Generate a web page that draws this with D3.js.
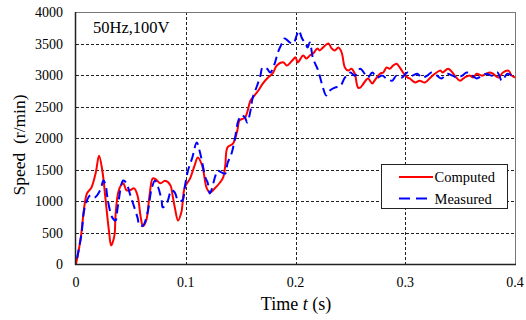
<!DOCTYPE html>
<html>
<head>
<meta charset="utf-8">
<script src="https://cdn.jsdelivr.net/npm/d3@7"></script>
<style>
  body { margin: 0; background: #fff; }
  svg { display: block; font-family: "Liberation Serif", "Times New Roman", serif; }
</style>
</head>
<body>
<svg id="chart" width="526" height="320"></svg>
<script>
// time (s) and speed (r/min)
var computedTime = [0, 0.004, 0.010, 0.014, 0.018, 0.021, 0.024, 0.027, 0.030, 0.032, 0.035, 0.036, 0.039, 0.043, 0.046, 0.049, 0.053, 0.056, 0.059, 0.061, 0.064, 0.067, 0.070, 0.073, 0.077, 0.081, 0.086, 0.088, 0.090, 0.093, 0.096, 0.099, 0.104, 0.108, 0.111, 0.115, 0.119, 0.122, 0.127, 0.131, 0.134, 0.136, 0.138, 0.143, 0.147, 0.149, 0.154, 0.159, 0.161, 0.166, 0.170, 0.175, 0.179, 0.183, 0.189, 0.192, 0.197, 0.200, 0.202, 0.207, 0.210, 0.213, 0.216, 0.220, 0.222, 0.225, 0.230, 0.233, 0.236, 0.239, 0.242, 0.245, 0.248, 0.251, 0.254, 0.257, 0.259, 0.262, 0.266, 0.270, 0.272, 0.277, 0.280, 0.283, 0.286, 0.289, 0.292, 0.295, 0.298, 0.302, 0.304, 0.309, 0.313, 0.318, 0.323, 0.327, 0.332, 0.334, 0.339, 0.343, 0.345, 0.350, 0.354, 0.359, 0.362, 0.365, 0.370, 0.374, 0.377, 0.380, 0.385, 0.389, 0.394, 0.397, 0.400];
var computedSpeed = [0, 370, 1120, 1210, 1450, 1720, 1480, 1010, 530, 295, 450, 770, 1170, 1280, 1170, 1170, 1200, 1090, 740, 600, 690, 1090, 1360, 1340, 1280, 1320, 1250, 1090, 900, 690, 820, 1210, 1360, 1560, 1690, 1560, 1210, 1135, 1210, 1290, 1370, 1560, 1850, 1910, 2120, 2280, 2325, 2595, 2640, 2750, 2860, 2960, 3020, 3150, 3200, 3150, 3230, 3280, 3200, 3310, 3260, 3310, 3340, 3420, 3390, 3435, 3500, 3420, 3390, 3435, 3360, 3120, 3070, 3100, 3020, 2800, 2800, 2865, 2945, 2865, 2910, 3020, 3040, 3120, 3100, 3150, 3180, 3120, 3040, 2960, 2945, 2880, 2910, 2880, 2960, 3020, 3070, 3040, 3100, 3040, 2990, 2910, 2960, 2990, 2960, 3020, 2990, 3020, 3040, 3020, 2960, 3040, 3070, 2990, 2960];

var measuredTime = [0.001, 0.005, 0.008, 0.013, 0.017, 0.022, 0.025, 0.027, 0.029, 0.033, 0.036, 0.038, 0.043, 0.046, 0.049, 0.052, 0.056, 0.058, 0.061, 0.065, 0.069, 0.072, 0.075, 0.078, 0.079, 0.083, 0.087, 0.090, 0.093, 0.097, 0.099, 0.102, 0.106, 0.110, 0.113, 0.118, 0.120, 0.122, 0.127, 0.129, 0.133, 0.136, 0.138, 0.142, 0.145, 0.148, 0.151, 0.154, 0.156, 0.159, 0.161, 0.165, 0.168, 0.170, 0.174, 0.177, 0.181, 0.184, 0.188, 0.190, 0.195, 0.198, 0.201, 0.203, 0.206, 0.209, 0.211, 0.213, 0.216, 0.220, 0.222, 0.225, 0.228, 0.231, 0.236, 0.241, 0.245, 0.250, 0.254, 0.259, 0.263, 0.266, 0.270, 0.274, 0.279, 0.283, 0.288, 0.292, 0.297, 0.302, 0.306, 0.311, 0.315, 0.320, 0.324, 0.329, 0.333, 0.338, 0.343, 0.347, 0.352, 0.356, 0.361, 0.365, 0.370, 0.374, 0.379, 0.384, 0.388, 0.393, 0.397, 0.400];
var measuredSpeed = [90, 480, 900, 1090, 1055, 1170, 1325, 1250, 1010, 740, 690, 900, 1325, 1280, 1120, 960, 740, 610, 610, 800, 1200, 1325, 1210, 1010, 900, 975, 1170, 1135, 1010, 1010, 1210, 1480, 1690, 1930, 1770, 1370, 1290, 1120, 1400, 1480, 1450, 1435, 1595, 1770, 2010, 2280, 2360, 2325, 2245, 2435, 2640, 2830, 2990, 3120, 3100, 3040, 3180, 3360, 3515, 3580, 3515, 3500, 3625, 3705, 3580, 3500, 3435, 3515, 3260, 3100, 2990, 2800, 2675, 2750, 2800, 2830, 2960, 3040, 2990, 3100, 3020, 2960, 3040, 2960, 2990, 2945, 2910, 2990, 2960, 3040, 2990, 3020, 2960, 2990, 3040, 2990, 2945, 3020, 2990, 2960, 2990, 3040, 2990, 2945, 2990, 3020, 2990, 3040, 2910, 3020, 2990, 2960];

var xTicks = [0, 0.1, 0.2, 0.3, 0.4];
var yTicks = [0, 500, 1000, 1500, 2000, 2500, 3000, 3500, 4000];
var seriesNames = ["Computed", "Measured"];

var svg = d3.select("#chart");
var plotLeft = 76, plotRight = 515, plotTop = 12, plotBottom = 264;

var x = d3.scaleLinear().domain([0, 0.4]).range([plotLeft, plotRight]);
var y = d3.scaleLinear().domain([0, 4000]).range([plotBottom, plotTop]);

// dashed grid
svg.append("g").selectAll("line")
  .data(yTicks.slice(1, -1))
  .join("line")
  .attr("x1", plotLeft).attr("x2", plotRight)
  .attr("y1", function(d){ return Math.round(y(d)) + 0.5; })
  .attr("y2", function(d){ return Math.round(y(d)) + 0.5; })
  .attr("stroke", "#222").attr("stroke-width", 1)
  .attr("stroke-dasharray", "3,2");

svg.append("g").selectAll("line")
  .data(xTicks.slice(1, -1))
  .join("line")
  .attr("x1", function(d){ return Math.round(x(d)) + 0.5; })
  .attr("x2", function(d){ return Math.round(x(d)) + 0.5; })
  .attr("y1", plotTop).attr("y2", plotBottom)
  .attr("stroke", "#222").attr("stroke-width", 1)
  .attr("stroke-dasharray", "3,2");

// frame: top/right grey, left/bottom dark
svg.append("line").attr("x1", plotLeft).attr("x2", plotRight).attr("y1", plotTop + 0.5).attr("y2", plotTop + 0.5)
  .attr("stroke", "#777");
svg.append("line").attr("x1", plotRight + 0.5).attr("x2", plotRight + 0.5).attr("y1", plotTop).attr("y2", plotBottom)
  .attr("stroke", "#777");

// tick labels
svg.append("g").selectAll("text")
  .data(yTicks)
  .join("text")
  .attr("x", 63)
  .attr("y", function(d){ return y(d) + 5; })
  .attr("text-anchor", "end")
  .attr("font-size", 14)
  .text(function(d){ return d; });

svg.append("g").selectAll("text")
  .data(xTicks)
  .join("text")
  .attr("x", function(d){ return x(d); })
  .attr("y", 287)
  .attr("text-anchor", "middle")
  .attr("font-size", 14)
  .text(function(d){ return d; });

// clip the curves to the plot
svg.append("clipPath").attr("id", "plotclip")
  .append("rect").attr("x", plotLeft).attr("y", plotTop - 2)
  .attr("width", plotRight - plotLeft + 1).attr("height", plotBottom - plotTop + 3);

var line = d3.line()
  .x(function(d){ return x(d[0]); })
  .y(function(d){ return y(d[1]); })
  .curve(d3.curveCatmullRom.alpha(0.5));

var computed = d3.zip(computedTime, computedSpeed);
var measured = d3.zip(measuredTime, measuredSpeed);

var curves = svg.append("g").attr("clip-path", "url(#plotclip)");
curves.append("path").datum(computed)
  .attr("d", line).attr("fill", "none")
  .attr("stroke", "#ff0000").attr("stroke-width", 2);
curves.append("path").datum(measured)
  .attr("d", line).attr("fill", "none")
  .attr("stroke", "#0000ff").attr("stroke-width", 2)
  .attr("stroke-dasharray", "9,5");

// left and bottom axis lines over the curves
svg.append("line").attr("x1", plotLeft - 0.5).attr("x2", plotLeft - 0.5).attr("y1", plotTop).attr("y2", plotBottom + 1)
  .attr("stroke", "#222").attr("stroke-width", 1.5);
svg.append("line").attr("x1", plotLeft - 1).attr("x2", plotRight + 1).attr("y1", plotBottom + 0.5).attr("y2", plotBottom + 0.5)
  .attr("stroke", "#222").attr("stroke-width", 1.5);

// legend
var lg = svg.append("g");
lg.append("rect").attr("x", 381.5).attr("y", 164.5).attr("width", 126).attr("height", 44)
  .attr("fill", "#fff").attr("stroke", "#222").attr("stroke-width", 1);
var styles = [{c: "#ff0000", dash: null}, {c: "#0000ff", dash: "11,6"}];
seriesNames.forEach(function(name, i){
  var ly = 177 + i * 21.5;
  lg.append("line").attr("x1", 399).attr("x2", 433).attr("y1", ly).attr("y2", ly)
    .attr("stroke", styles[i].c).attr("stroke-width", 2)
    .attr("stroke-dasharray", styles[i].dash);
  lg.append("text").attr("x", 434.5).attr("y", ly + 5)
    .attr("font-size", 14.5).text(name);
});

// annotation and axis titles
svg.append("text").attr("x", 93).attr("y", 33).attr("font-size", 16.5).text("50Hz,100V");

var xt = svg.append("text").attr("x", 296).attr("y", 310).attr("text-anchor", "middle").attr("font-size", 18);
xt.append("tspan").text("Time ");
xt.append("tspan").attr("font-style", "italic").text("t");
xt.append("tspan").text(" (s)");

svg.append("text")
  .attr("transform", "translate(25,145) rotate(-90)")
  .attr("text-anchor", "middle").attr("font-size", 17.5)
  .attr("xml:space", "preserve")
  .text("Speed  (r/min)");
</script>
</body>
</html>
